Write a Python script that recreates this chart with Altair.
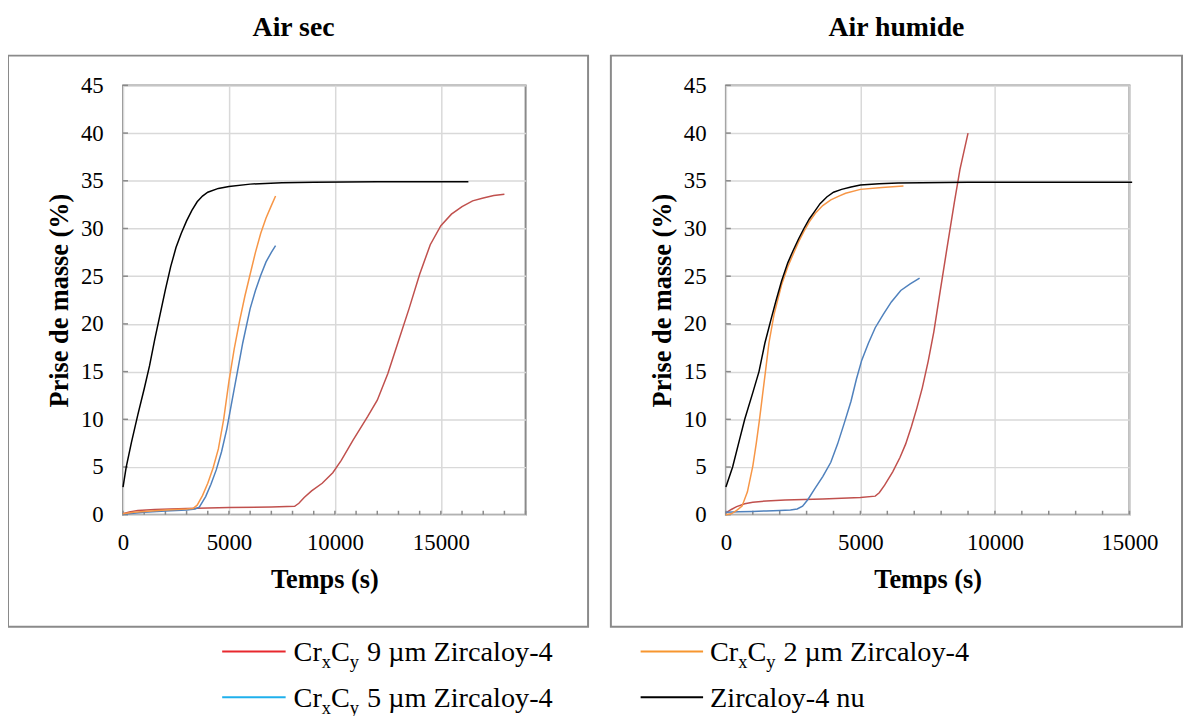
import altair as alt
import pandas as pd

# ---------------- Data : Air sec ----------------
sec_nu_t = [0, 150, 400, 700, 1000, 1250, 1500, 1750, 2000, 2250, 2500, 2750, 3000, 3250, 3500, 3750,
            4000, 4500, 5000, 6000, 7500, 9000, 12000, 16300]
sec_nu_m = [2.9, 5.0, 7.6, 10.5, 13.2, 15.6, 18.4, 21.0, 23.6, 26.0, 28.0, 29.5, 30.8, 31.9, 32.8, 33.4,
            33.8, 34.2, 34.4, 34.65, 34.8, 34.85, 34.9, 34.9]

sec_2_t = [0, 500, 1000, 2000, 3000, 3300, 3500, 3750, 4000, 4250, 4500, 4750, 5000, 5250, 5500, 5750,
           6000, 6250, 6500, 6750, 7000, 7200]
sec_2_m = [0.1, 0.25, 0.35, 0.5, 0.6, 0.65, 1.0, 2.0, 3.3, 4.9, 6.9, 10.0, 14.0, 17.4, 20.3, 22.9,
           25.2, 27.5, 29.5, 31.1, 32.4, 33.4]

sec_5_t = [0, 1000, 2000, 3000, 3400, 3600, 3900, 4150, 4400, 4650, 4900, 5150, 5400, 5650, 6000,
           6250, 6500, 6750, 7000, 7200]
sec_5_m = [0.05, 0.25, 0.4, 0.5, 0.6, 0.8, 1.9, 3.2, 4.7, 6.6, 9.0, 12.0, 15.0, 18.0, 21.6,
           23.5, 25.1, 26.5, 27.5, 28.2]

sec_9_t = [0, 300, 700, 1500, 3000, 5000, 7000, 8100, 8300, 8550, 8900, 9400, 9900, 10300, 10850,
           11550, 12000, 12500, 13000, 13500, 14000, 14500, 15000, 15500, 16000, 16500, 17000, 17500, 18000]
sec_9_m = [0.1, 0.3, 0.45, 0.55, 0.65, 0.75, 0.82, 0.88, 1.2, 1.8, 2.5, 3.3, 4.4, 5.7, 7.8,
           10.3, 12.0, 14.8, 18.2, 21.6, 25.2, 28.3, 30.3, 31.5, 32.3, 32.9, 33.2, 33.45, 33.6]

# ---------------- Data : Air humide ----------------
hum_nu_t = [0, 250, 500, 700, 1000, 1230, 1450, 1680, 1850, 2070, 2300, 2500, 2700, 2900, 3100, 3300,
            3500, 3750, 4000, 4300, 4650, 5000, 5700, 6400, 9000, 15100]
hum_nu_m = [2.9, 5.0, 7.8, 10.0, 12.8, 15.0, 18.0, 20.5, 22.3, 24.5, 26.4, 27.7, 28.9, 30.0, 31.0, 31.8,
            32.6, 33.3, 33.8, 34.1, 34.35, 34.55, 34.7, 34.76, 34.85, 34.85]

hum_2_t = [0, 200, 400, 600, 800, 1000, 1130, 1250, 1360, 1470, 1600, 1790, 2070, 2300, 2500, 2700,
           2900, 3100, 3325, 3600, 3900, 4200, 4450, 5000, 5800, 6600]
hum_2_m = [0.0, 0.1, 0.45, 0.9, 2.4, 5.1, 7.5, 10.0, 12.5, 15.0, 18.0, 21.0, 24.1, 26.0, 27.3, 28.6,
           29.7, 30.7, 31.6, 32.4, 33.0, 33.4, 33.7, 34.1, 34.3, 34.45]

hum_5_t = [0, 500, 1000, 1500, 2000, 2400, 2650, 2850, 3050, 3300, 3600, 3900, 4150, 4400, 4650, 4850,
           5050, 5300, 5550, 5850, 6150, 6500, 6850, 7200]
hum_5_m = [0.25, 0.3, 0.35, 0.4, 0.45, 0.5, 0.6, 0.9, 1.6, 2.7, 4.0, 5.5, 7.4, 9.6, 11.9, 14.2,
           16.2, 18.0, 19.6, 21.0, 22.3, 23.5, 24.2, 24.8]

hum_9_t = [0, 200, 400, 700, 1000, 1500, 2200, 3600, 5000, 5550, 5700, 5900, 6200, 6470, 6680, 6890,
           7100, 7300, 7520, 7730, 7930, 8210, 8490, 8700, 9000]
hum_9_m = [0.2, 0.55, 0.85, 1.15, 1.3, 1.45, 1.55, 1.66, 1.8, 1.95, 2.3, 3.1, 4.5, 6.0, 7.4, 9.2,
           11.2, 13.3, 16.1, 19.2, 22.8, 27.8, 32.7, 36.2, 40.0]

series = ["CrxCy 9 µm Zircaloy-4", "CrxCy 5 µm Zircaloy-4", "CrxCy 2 µm Zircaloy-4", "Zircaloy-4 nu"]
line_colors = ["#C0504D", "#4F81BD", "#F79646", "#000000"]
legend_colors = ["#E8282E", "#1FB0EC", "#F7962F", "#000000"]

x_labels_sec = [0, 5000, 10000, 15000]
x_minor_sec = list(range(0, 19001, 1000))
x_labels_hum = [0, 5000, 10000, 15000]
x_minor_hum = list(range(0, 15001, 1000))
y_vals = [0, 5, 10, 15, 20, 25, 30, 35, 40, 45]

FONT = "Liberation Serif"
GRAY = "#8a8a8a"
W_SEC, W_HUM, H = 406, 407, 433


def frame(pairs):
    rows = []
    for name, (ts, ms) in zip(series, pairs):
        for t, m in zip(ts, ms):
            rows.append({"t": t, "m": m, "serie": name})
    return pd.DataFrame(rows)


df_sec = frame([(sec_9_t, sec_9_m), (sec_5_t, sec_5_m), (sec_2_t, sec_2_m), (sec_nu_t, sec_nu_m)])
df_hum = frame([(hum_9_t, hum_9_m), (hum_5_t, hum_5_m), (hum_2_t, hum_2_m), (hum_nu_t, hum_nu_m)])
one = pd.DataFrame({"k": [0]})


def panel(df, xmax, x_labels, x_minor, title, box_w, width, extra=None):
    x_enc = alt.X("t:Q", scale=alt.Scale(domain=[0, xmax], nice=False, zero=True),
                  axis=alt.Axis(values=x_labels, title="Temps (s)", format="d", ticks=False, tickSize=0,
                                domain=False, labelPadding=17, labelFlush=False, labelOverlap=False,
                                titleY=73, titleBaseline="alphabetic", titleX=width / 2,
                                titleAlign="center"))
    y_enc = alt.Y("m:Q", scale=alt.Scale(domain=[0, 45], nice=False),
                  axis=alt.Axis(values=y_vals, title="Prise de masse (%)", ticks=False, tickSize=0,
                                domain=False, labelPadding=20, labelFlush=False, labelOverlap=False,
                                titleAngle=270, titleBaseline="alphabetic", titleAlign="center",
                                titleX=-56, titleY=H / 2))
    lines = alt.Chart(df).mark_line(strokeWidth=1.5, clip=False).encode(
        x=x_enc, y=y_enc,
        color=alt.Color("serie:N", scale=alt.Scale(domain=series, range=line_colors), legend=None),
        order=alt.Order("t:Q"),
    )
    xt = alt.Chart(pd.DataFrame({"t": x_minor})).mark_rule(color=GRAY, strokeWidth=1.5).encode(
        x=x_enc, y=alt.value(H), y2=alt.value(H - 4))
    yt = alt.Chart(pd.DataFrame({"m": y_vals})).mark_rule(color=GRAY, strokeWidth=1.5).encode(
        y=y_enc, x=alt.value(0), x2=alt.value(5))
    box = alt.Chart(one).mark_rect(fill="white", fillOpacity=0, stroke=GRAY, strokeWidth=2).encode(
        x=alt.value(-116), x2=alt.value(box_w), y=alt.value(-30), y2=alt.value(546))
    ttl = alt.Chart(one).mark_text(text=title, font=FONT, fontSize=28, fontWeight="bold",
                                   align="center", baseline="alphabetic", color="black").encode(
        x=alt.value(172), y=alt.value(-50))
    canvas = alt.Chart(one).mark_rect(fill="white", opacity=0).encode(
        x=alt.value(-100), x2=alt.value(-90), y=alt.value(-74), y2=alt.value(-60))
    layers = [canvas, box, ttl, xt, yt, lines]
    if extra:
        layers = extra + layers
    return alt.layer(*layers).properties(width=width, height=H)


# ----- custom legend (with subscripts), positioned under the panels -----
def legend_layers():
    out = []
    entries = [
        (0, 0, "9 µm Zircaloy-4", True),
        (1, 1, "5 µm Zircaloy-4", True),
        (2, 0, "2 µm Zircaloy-4", True),
        (3, 1, "Zircaloy-4 nu", False),
    ]
    col_line = [(100, 164), (522, 585)]
    col_text = [172, 592]
    row_y = [571, 617]
    for idx, row, rest, sub in entries:
        col = 0 if idx in (0, 1) else 1
        y = row_y[row]
        x0 = col_text[col]
        out.append(alt.Chart(one).mark_rule(color=legend_colors[idx], strokeWidth=2).encode(
            x=alt.value(col_line[col][0]), x2=alt.value(col_line[col][1]), y=alt.value(y)))
        base_y = y + 10
        if sub:
            pieces = [("Cr", 0, 28.5, base_y), ("x", 28.5, 18.5, base_y + 7),
                      ("C", 37.75, 28.5, base_y), ("y", 56.75, 18.5, base_y + 7),
                      (rest, 74, 28.5, base_y)]
        else:
            pieces = [(rest, 0, 28.5, base_y)]
        for txt, dx, fs, yy in pieces:
            out.append(alt.Chart(one).mark_text(text=txt, font=FONT, fontSize=fs, align="left",
                                                baseline="alphabetic", color="black").encode(
                x=alt.value(x0 + dx), y=alt.value(yy)))
    return out


left = panel(df_sec, 19000, x_labels_sec, x_minor_sec, "Air sec", 469, W_SEC, extra=legend_layers())
right = panel(df_hum, 15000, x_labels_hum, x_minor_hum, "Air humide", 460, W_HUM)

chart = alt.HConcatChart(
    hconcat=[left, right], spacing=202, bounds="flush",
    padding={"left": -2, "top": 0, "right": 0, "bottom": 0},
).configure_view(
    stroke=GRAY, strokeWidth=2
).configure_axis(
    labelFont=FONT, labelFontSize=23, labelColor="black",
    titleFont=FONT, titleFontSize=26.5, titleFontWeight="bold", titleColor="black",
    gridColor="#d9d9d9", gridWidth=1.5,
)

chart.save("out.html", embed_options={"renderer": "svg", "actions": False})
